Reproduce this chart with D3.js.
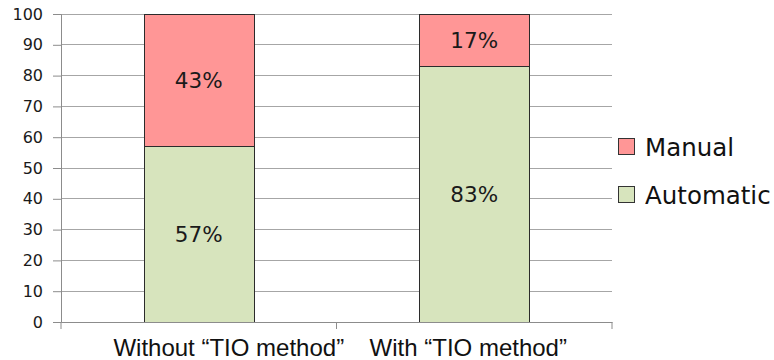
<!DOCTYPE html>
<html>
<head>
<meta charset="utf-8">
<script src="https://cdn.jsdelivr.net/npm/d3@7/dist/d3.min.js"></script>
<style>
  html, body { margin: 0; padding: 0; background: #fff; }
  svg { display: block; }
</style>
</head>
<body>
<svg id="chart" width="774" height="360"></svg>
<script>
// Share of work done automatically vs. manually, per method
const categories = ["Without \u201CTIO method\u201D", "With \u201CTIO method\u201D"];
const seriesNames = ["Automatic", "Manual"];
const automaticValues = [57, 83];
const manualValues = [43, 17];
const yTicks = [0, 10, 20, 30, 40, 50, 60, 70, 80, 90, 100];
const legendItems = ["Manual", "Automatic"];
const colors = { Automatic: "#D7E4BD", Manual: "#FF9696" };

const svg = d3.select("#chart");
const plot = { left: 61, right: 612, top: 14, bottom: 322 };

const x = d3.scaleBand().domain(categories).range([plot.left, plot.right]).paddingInner(0.6).paddingOuter(0.3);
const y = d3.scaleLinear().domain([0, 100]).range([plot.bottom, plot.top]);

// Horizontal gridlines
svg.append("g")
  .selectAll("line")
  .data(yTicks.filter(d => d > 0))
  .join("line")
  .attr("x1", plot.left).attr("x2", plot.right)
  .attr("y1", d => y(d)).attr("y2", d => y(d))
  .attr("stroke", "#a6a6a6").attr("stroke-width", 1)
  .attr("shape-rendering", "crispEdges");

// Stacked data
const rows = categories.map((c, i) => ({ category: c, Automatic: automaticValues[i], Manual: manualValues[i] }));
const stack = d3.stack().keys(seriesNames)(rows);

const layers = svg.append("g").selectAll("g").data(stack).join("g")
  .attr("fill", d => colors[d.key]);

layers.selectAll("rect")
  .data(d => d.map(v => Object.assign({ key: d.key }, v)))
  .join("rect")
  .attr("x", d => Math.round(x(d.data.category)) + 0.5)
  .attr("width", Math.round(x.bandwidth()))
  .attr("y", d => Math.round(y(d[1])) + 0.5)
  .attr("height", d => Math.round(y(d[0])) - Math.round(y(d[1])))
  .attr("stroke", "#2b2b2b").attr("stroke-width", 1);

// Segment labels
layers.selectAll("text")
  .data(d => d.map(v => Object.assign({ key: d.key }, v)))
  .join("text")
  .attr("x", d => x(d.data.category) + x.bandwidth() / 2)
  .attr("y", d => y((d[0] + d[1]) / 2))
  .attr("dy", "0.36em")
  .attr("text-anchor", "middle")
  .attr("fill", "#1a1a1a")
  .attr("font-family", "'DejaVu Sans', sans-serif")
  .attr("font-size", 21.5)
  .text(d => (d[1] - d[0]) + "%");

// Y axis
const yAxis = d3.axisLeft(y).tickValues(yTicks).tickSize(8).tickPadding(10).tickFormat(d3.format("d"));
const gy = svg.append("g").attr("transform", `translate(${plot.left},0)`).call(yAxis);
gy.select(".domain").attr("stroke", "#8c8c8c");
gy.selectAll(".tick line").attr("stroke", "#8c8c8c");
gy.selectAll(".tick text")
  .attr("fill", "#1a1a1a")
  .attr("font-family", "'DejaVu Sans', sans-serif")
  .attr("font-size", 16);

// X axis: labels under each bar, ticks on category boundaries
const xAxis = d3.axisBottom(x).tickSize(0).tickPadding(17);
const gx = svg.append("g").attr("transform", `translate(0,${plot.bottom})`).call(xAxis);
gx.select(".domain").attr("stroke", "#8c8c8c");
gx.selectAll(".tick text")
  .attr("fill", "#111")
  .attr("font-family", "'Liberation Sans', Arial, sans-serif")
  .attr("font-size", 24)
  .attr("dx", (d, i) => (i === 0 ? 30 : -6));

const boundaries = [plot.left, (plot.left + plot.right) / 2, plot.right];
gx.selectAll("line.sep")
  .data(boundaries)
  .join("line")
  .attr("class", "sep")
  .attr("x1", d => d).attr("x2", d => d)
  .attr("y1", 0).attr("y2", 7)
  .attr("stroke", "#8c8c8c");

// Legend
const legend = svg.append("g").attr("transform", "translate(618,138)");
const li = legend.selectAll("g").data(legendItems).join("g")
  .attr("transform", (d, i) => `translate(0,${i * 48})`);
li.append("rect")
  .attr("x", 0.5).attr("y", 0.5).attr("width", 16).attr("height", 16)
  .attr("fill", d => colors[d]).attr("stroke", "#333");
li.append("text")
  .attr("x", 27).attr("y", 9).attr("dy", "0.36em")
  .attr("fill", "#111")
  .attr("font-family", "'DejaVu Sans', sans-serif")
  .attr("font-size", 24.5)
  .text(d => d);
</script>
</body>
</html>
